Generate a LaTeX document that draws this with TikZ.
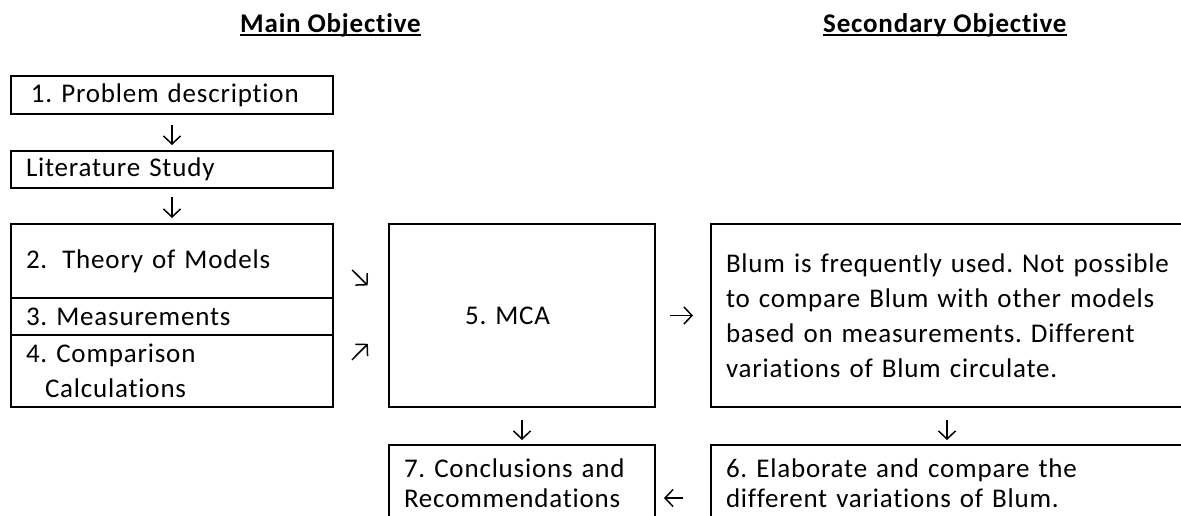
\documentclass[tikz,border=0pt]{standalone}
\usepackage{fontspec}
\setmainfont{Carlito}[Ligatures=NoCommon, LetterSpace=3]
\usetikzlibrary{arrows.meta}
\frenchspacing
\tikzset{
  box/.style={draw, line width=1.6pt, rectangle, anchor=north west, outer sep=0pt,
    inner xsep=15pt, inner ysep=0pt, align=left},
  flow/.style={-{Straight Barb[length=8pt,width=17pt]}, line width=1.5pt},
  head/.style={font=\bfseries\fontsize{27}{30}\selectfont, inner sep=0pt, anchor=base west}
}

\begin{document}
\begin{tikzpicture}[x=1pt, y=-1pt, every node/.style={font=\fontsize{27}{35}\selectfont}]
\useasboundingbox (0,0) rectangle (1181,515);
\clip (0,0) rectangle (1181,515);
% headings
\node[head] (mainT) at (240,32) {Main Objective};
\node[head] (secT) at (823,32) {Secondary Objective};
\draw[line width=2.5pt] ([yshift=-3pt]mainT.base west) -- ([yshift=-3pt]mainT.base east);
\draw[line width=2.5pt] ([yshift=-3pt]secT.base west) -- ([yshift=-3pt]secT.base east);
% left column
\node[box, text width=292pt, minimum height=38pt] (prob) at (11,76) {\hspace*{5pt}1. Problem description};
\node[box, text width=292pt, minimum height=37pt] (lit) at (11,151) {Literature Study};
\node[box, text width=292pt, minimum height=74pt] (theory) at (11,224) {2.\hspace*{15pt}Theory of Models};
\node[box, text width=292pt, minimum height=37pt] (meas) at (11,298) {3. Measurements};
\node[box, text width=292pt, minimum height=72pt] (comp) at (11,335) {4. Comparison\\\hspace*{19pt}Calculations};
% middle and right
\node[box, text width=236pt, minimum height=183pt] (mca) at (389,224) {\hspace*{61pt}5. MCA};
\node[box, text width=442pt, minimum height=183pt] (blum) at (711,224)
  {Blum is frequently used. Not possible\\to compare Blum with other models\\based on measurements. Different\\variations of Blum circulate.};
\node[box, text width=236pt, minimum height=76pt, font=\fontsize{27}{30}\selectfont] (concl) at (389,445)
  {7. Conclusions and\\Recommendations};
\node[box, text width=442pt, minimum height=76pt, font=\fontsize{27}{30}\selectfont] (elab) at (711,445)
  {6. Elaborate and compare the\\different variations of Blum.};
% arrows
\draw[flow, shorten <=11pt, shorten >=6pt] (prob) -- (lit);
\draw[flow, shorten <=9pt, shorten >=6pt] (lit) -- (theory);
\draw[flow, shorten <=27pt, shorten >=30pt] ([yshift=10pt]theory.east) -- ([yshift=9pt]mca.west);
\draw[flow, shorten <=27pt, shorten >=30pt] ([yshift=-8pt]comp.east) -- ([yshift=-7pt]mca.west);
\draw[flow, shorten <=15pt, shorten >=18pt] (mca) -- (blum);
\draw[flow, shorten <=13pt, shorten >=5pt] (mca) -- (concl);
\draw[flow, shorten <=13pt, shorten >=5pt] (blum) -- (elab);
\draw[flow, shorten <=28pt, shorten >=9pt] ([yshift=-15pt]elab.west) -- ([yshift=-15pt]concl.east);
\end{tikzpicture}
\end{document}
